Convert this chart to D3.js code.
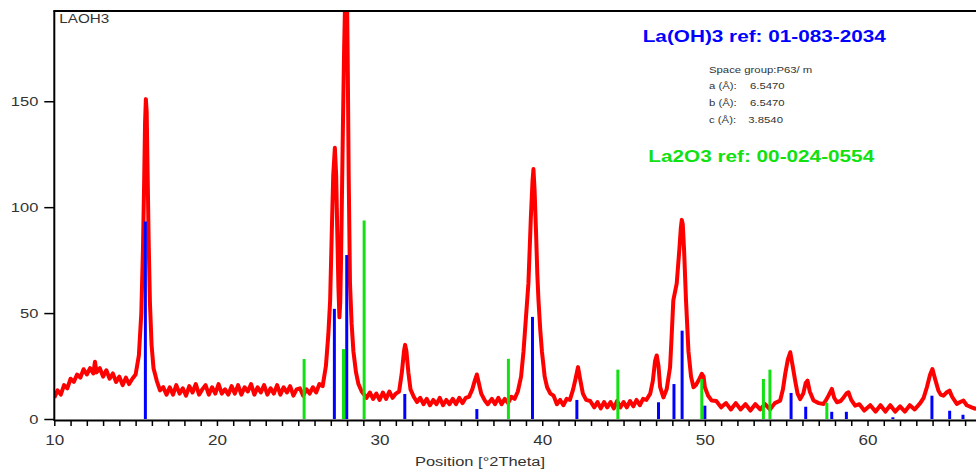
<!DOCTYPE html>
<html>
<head>
<meta charset="utf-8">
<script src="https://cdn.jsdelivr.net/npm/d3@7"></script>
<style>
  html, body { margin: 0; padding: 0; background: #fff; }
  svg { display: block; }
</style>
</head>
<body>
<svg id="chart" width="976" height="472"></svg>
<script>
// ---------------- DATA ----------------
const sampleName = "LAOH3";
const xAxisTitle = "Position [°2Theta]";
const xMajorTicks = [10, 20, 30, 40, 50, 60];
const yTicks = [0, 50, 100, 150];

// measured pattern: 2theta and counts
const patternTheta = [
  10.0,10.2,10.4,10.6,10.8,11.0,11.2,11.4,11.6,11.8,12.0,12.2,12.4,12.5,12.6,12.8,13.0,13.2,13.4,13.6,13.8,14.0,14.2,14.4,14.6,14.8,
  15.0,15.2,15.35,15.45,15.52,15.58,15.63,15.68,15.74,15.8,15.88,15.98,16.1,16.3,16.5,16.7,16.9,
  17.1,17.3,17.5,17.7,17.9,18.1,18.3,18.5,18.7,18.9,19.1,19.3,19.5,19.7,19.9,20.1,20.3,20.5,20.7,20.9,
  21.1,21.3,21.5,21.7,21.9,22.1,22.3,22.5,22.7,22.9,23.1,23.3,23.5,23.7,23.9,24.1,24.3,24.5,24.7,24.9,
  25.1,25.3,25.5,25.7,25.9,26.1,26.3,26.5,26.7,26.85,26.96,27.06,27.15,27.25,27.33,27.4,27.47,27.53,27.58,27.63,
  27.74,27.82,27.9,27.98,28.04,28.1,28.18,28.28,28.39,28.55,28.7,28.9,29.2,29.4,29.6,29.8,30.0,30.2,30.4,30.6,30.8,
  31.0,31.2,31.37,31.5,31.57,31.65,31.77,31.9,32.1,32.3,32.5,32.7,32.9,33.1,33.3,33.5,33.7,33.9,34.1,34.3,34.5,34.7,34.9,
  35.1,35.3,35.5,35.7,35.85,35.98,36.1,36.25,36.45,36.65,36.9,37.1,37.3,37.5,37.7,37.9,38.1,38.3,38.5,38.7,38.85,
  39.0,39.15,39.3,39.4,39.46,39.53,39.62,39.7,39.77,39.88,39.98,40.15,40.3,40.5,40.7,40.9,41.1,41.3,41.5,41.7,41.9,
  42.05,42.2,42.35,42.5,42.7,42.95,43.2,43.4,43.6,43.8,44.0,44.2,44.4,44.6,44.8,45.0,45.2,45.4,45.6,45.8,46.0,46.2,46.4,
  46.64,46.8,46.94,47.04,47.15,47.25,47.45,47.65,47.86,47.95,48.06,48.27,48.43,48.52,48.58,48.64,48.72,48.84,48.99,
  49.15,49.3,49.45,49.6,49.81,49.92,50.0,50.2,50.42,50.7,51.0,51.3,51.6,51.9,52.2,52.5,52.8,53.1,53.4,53.7,54.0,54.3,
  54.63,54.8,54.94,55.1,55.25,55.4,55.55,55.7,55.86,56.05,56.2,56.31,56.45,56.68,57.0,57.3,57.45,57.6,57.81,57.95,
  58.12,58.35,58.53,58.7,58.83,59.0,59.24,59.5,59.8,60.17,60.5,60.8,61.1,61.4,61.7,62.0,62.3,62.6,62.9,63.24,63.45,
  63.65,63.85,63.99,64.15,64.36,64.5,64.67,64.85,65.04,65.2,65.49,65.7,65.9,66.1,66.4,66.68
];
const patternCounts = [
  10,13.5,11.5,16,14.5,19,17.5,21,19.5,23.5,21,24,21.5,27,22,24,20,23,19,21.5,17.5,20,16,19.5,16.5,19,
  21,30,50,80,110,140,151,145,115,85,55,35,24,18,13.5,15,11.5,
  15,11.5,16,12,14.5,11,15.5,12.5,16.5,11.5,14,16,11.5,15,12,16.5,12,14,11.5,15.5,
  12,16,11.5,15,13,16.5,11.5,15,12.5,16,11.5,14.5,12,16,11.5,15,12.5,15.5,11,14,
  14.5,11,14,12,15,12.5,16.5,15.5,25,40,56,88,115,128,115,88,62,48,55,75,
  135,175,205,210,170,115,64,45,32,22,16.5,13,10,12.5,9.5,12,9,12.5,9.5,13,10,
  12,13,22,32,35,32,22,14,10.5,8,10,7,9.5,6.5,9,7,10,6.5,9,7,9.5,7,10,
  7.5,10,10.5,14,18,21,17,12,9,7,9.5,7,10,7,9.5,7.5,10.5,9.5,13,20,32,
  48,64,95,112,118,108,88,68,56,42,32,20,15,12,11,7,9,6.5,9.5,9,14,
  19,24.5,18,12,9,8.5,5.5,8,5,8,5.5,8,5,8.5,5.5,8,5.5,8.5,6,9,6.5,9.5,9,
  12,18,27.5,30,25,15,10.2,14,24.4,38,56,64,80,90,94,92,80,56,32,
  20,15,16,18,21.3,20,15,11,8.7,8.5,5.5,7.5,4.5,7.5,4.5,7,4,7,4.5,7,4.5,7.5,
  8.7,14,21.3,28,31.5,25,18.1,12,9.4,12,17,18.1,13,8.7,7.5,7.1,9,11,14.2,10,
  7.9,8.5,10.2,12,12.6,9,6.3,7,4,6.5,3.5,6.5,3.5,6.5,3.5,6,3.5,6.5,4.5,7.5,10,
  15,21,23.6,19,13.4,11.5,11,12.5,13.4,10.5,7.1,8,8.7,6.5,5.5,4.7
];

// La(OH)3 reference 01-083-2034 (blue sticks)
const laohRefTitle = "La(OH)3 ref: 01-083-2034";
const laohPositions = [15.6, 27.22, 27.98, 31.55, 35.98, 39.4, 42.13, 47.15, 48.1, 48.6, 50.0, 55.3, 56.2, 57.8, 58.7, 61.56, 63.96, 65.05, 65.87];
const laohIntensities = [93.2, 52, 77.4, 11.8, 4.7, 48.2, 9, 7.9, 16.5, 41.7, 6.3, 12.3, 5.8, 3.4, 3.4, 0.8, 11, 3.9, 2];
const cellLines = ["Space group:P63/ m", "a (Å):", "b (Å):", "c (Å):"];
const cellValues = ["", "6.5470", "6.5470", "3.8540"];

// La2O3 reference 00-024-0554 (green sticks)
const la2o3RefTitle = "La2O3 ref: 00-024-0554";
const la2o3Positions = [25.36, 27.78, 29.05, 37.92, 44.65, 49.81, 53.6, 54.0, 57.5];
const la2o3Intensities = [28.3, 33, 93.7, 28.4, 23.3, 18.9, 18.9, 23.3, 7.7];

// ---------------- DRAWING ----------------
const plotLeft = 54.3, plotRight = 976, plotTop = 11, plotBottom = 419;
const SX = 1.22; // horizontal stretch of the original picture's text

const x = d3.scaleLinear().domain([10, 66.67]).range([plotLeft, plotRight]);
const y = d3.scaleLinear().domain([0, 192.6]).range([plotBottom, plotTop]);

const svg = d3.select("#chart");
const font = "'Liberation Sans', Arial, sans-serif";

svg.append("defs").append("clipPath").attr("id", "plotclip")
  .append("rect").attr("x", plotLeft).attr("y", plotTop)
  .attr("width", plotRight - plotLeft).attr("height", plotBottom - plotTop + 1);

const plot = svg.append("g").attr("clip-path", "url(#plotclip)");

const points = patternTheta.map((t, i) => [t, patternCounts[i]]);
plot.append("path")
  .datum(points)
  .attr("fill", "none")
  .attr("stroke", "#ff0000")
  .attr("stroke-width", 4)
  .attr("stroke-linejoin", "round")
  .attr("d", d3.line().x(d => x(d[0])).y(d => y(d[1])));

plot.selectAll("line.laoh").data(laohPositions).join("line")
  .attr("class", "laoh")
  .attr("x1", d => x(d)).attr("x2", d => x(d))
  .attr("y1", y(0)).attr("y2", (d, i) => y(laohIntensities[i]))
  .attr("stroke", "#0000ff").attr("stroke-width", 3);

plot.selectAll("line.la2o3").data(la2o3Positions).join("line")
  .attr("class", "la2o3")
  .attr("x1", d => x(d)).attr("x2", d => x(d))
  .attr("y1", y(0)).attr("y2", (d, i) => y(la2o3Intensities[i]))
  .attr("stroke", "#11e011").attr("stroke-width", 3);

// x axis
const xAxis = d3.axisBottom(x)
  .tickValues(d3.range(10, 67, 1))
  .tickSize(6).tickSizeOuter(0)
  .tickFormat(d => xMajorTicks.includes(d) ? d : "");
const gx = svg.append("g").attr("transform", `translate(0,${plotBottom + 1})`).call(xAxis);
gx.select(".domain").attr("stroke", "#000").attr("stroke-width", 2);
gx.selectAll(".tick line").attr("stroke", "#000").attr("stroke-width", 1.5);
gx.selectAll(".tick text")
  .attr("font-family", font).attr("font-size", 14).attr("fill", "#333")
  .attr("y", 25).attr("dy", 0)
  .attr("transform", `scale(${SX},1)`);

// y axis
const yAxis = d3.axisLeft(y).tickValues(yTicks).tickSize(10).tickSizeOuter(0);
const gy = svg.append("g").attr("transform", `translate(${plotLeft},0)`).call(yAxis);
gy.select(".domain").remove();
gy.selectAll(".tick line").attr("stroke", "#000").attr("stroke-width", 1.5);
gy.selectAll(".tick text")
  .attr("font-family", font).attr("font-size", 13.5).attr("fill", "#333")
  .attr("x", -16 / SX)
  .attr("transform", `scale(${SX},1)`);

// frame: left axis line and top border
svg.append("line").attr("x1", plotLeft).attr("x2", plotLeft).attr("y1", plotTop).attr("y2", plotBottom + 2)
  .attr("stroke", "#000").attr("stroke-width", 2);
svg.append("line").attr("x1", plotLeft - 1).attr("x2", plotRight).attr("y1", plotTop).attr("y2", plotTop)
  .attr("stroke", "#000").attr("stroke-width", 2);

function stretchedText(tx, ty, str, size, color, weight) {
  return svg.append("text")
    .attr("transform", `translate(${tx},${ty}) scale(${SX},1)`)
    .attr("font-family", font).attr("font-size", size)
    .attr("font-weight", weight || "normal")
    .attr("fill", color).text(str);
}

stretchedText(480, 465.5, xAxisTitle, 13.5, "#333").attr("text-anchor", "middle");
stretchedText(59.3, 23, sampleName, 12.5, "#333");
stretchedText(642.7, 41.5, laohRefTitle, 17, "#0000ff", "bold");
stretchedText(648.3, 162.3, la2o3RefTitle, 17, "#11e011", "bold");

const cellBase = [72.5, 89.3, 106, 122.7];
const cellValX = [0, 750, 750, 748.3];
cellLines.forEach((s, i) => {
  stretchedText(709, cellBase[i], s, 9.3, "#333");
  if (cellValues[i]) stretchedText(cellValX[i], cellBase[i], cellValues[i], 9.3, "#333");
});
</script>
</body>
</html>
